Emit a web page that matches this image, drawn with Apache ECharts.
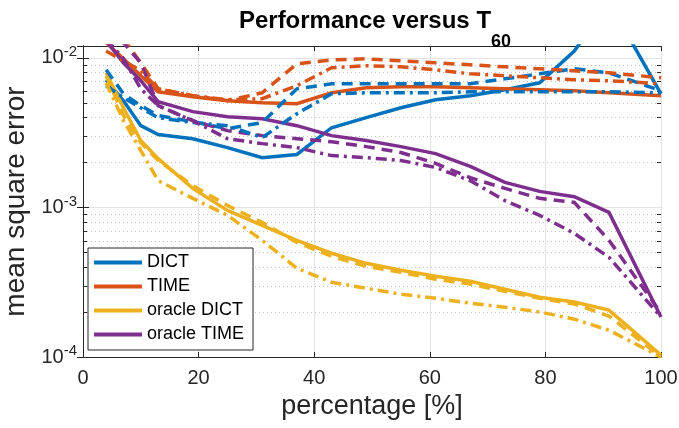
<!DOCTYPE html>
<html><head><meta charset="utf-8">
<script src="https://cdn.jsdelivr.net/npm/echarts@6/dist/echarts.min.js"></script>
<style>html,body{margin:0;padding:0;background:#fff}#c{width:679px;height:428px}</style>
</head><body><div id="c"></div>
<script>
const percentages = [4,7,10,13,19,25,31,37,43,49,55,61,67,73,79,85,91,100];
const dictSolid = [7.13e-3,5.17e-3,3.52e-3,3.07e-3,2.88e-3,2.51e-3,2.15e-3,2.26e-3,3.41e-3,3.98e-3,4.64e-3,5.25e-3,5.58e-3,6.12e-3,6.81e-3,1.11e-2,2.36e-2,5.75e-3];
const dictDashed = [8.32e-3,5.75e-3,4.79e-3,4.11e-3,3.74e-3,3.36e-3,3.69e-3,6.21e-3,6.71e-3,6.71e-3,6.71e-3,6.71e-3,6.71e-3,7.24e-3,7.82e-3,8.45e-3,7.94e-3,6.03e-3];
const dictDashDot = [6.51e-3,5.41e-3,4.64e-3,3.98e-3,3.69e-3,3.52e-3,2.93e-3,4.23e-3,5.75e-3,5.84e-3,5.84e-3,5.84e-3,5.93e-3,5.93e-3,5.93e-3,5.93e-3,5.93e-3,5.84e-3];
const timeSolid = [1.26e-2,9.85e-3,7.59e-3,5.93e-3,5.5e-3,5.17e-3,5.01e-3,4.94e-3,5.84e-3,6.31e-3,6.41e-3,6.41e-3,6.31e-3,6.21e-3,6.12e-3,6.03e-3,5.84e-3,5.58e-3];
const timeDashed = [1.51e-2,1.34e-2,9.26e-3,6.21e-3,5.58e-3,5.17e-3,5.84e-3,9.12e-3,9.7e-3,9.85e-3,9.55e-3,9.26e-3,8.98e-3,8.71e-3,8.45e-3,8.19e-3,7.94e-3,7.36e-3];
const timeDashDot = [1.11e-2,9.55e-3,8.19e-3,6.21e-3,5.58e-3,5.25e-3,5.33e-3,6.51e-3,8.58e-3,8.85e-3,8.71e-3,8.32e-3,7.82e-3,7.59e-3,7.36e-3,7.13e-3,7.03e-3,6.71e-3];
const oracleDictSolid = [7.94e-3,4.64e-3,2.8e-3,2.12e-3,1.34e-3,9.55e-4,7.59e-4,6.03e-4,4.94e-4,4.23e-4,3.8e-4,3.47e-4,3.21e-4,2.84e-4,2.51e-4,2.33e-4,2.06e-4,1.03e-4];
const oracleDictDashed = [7.59e-3,4.11e-3,2.71e-3,2.06e-3,1.4e-3,1.03e-3,7.94e-4,5.84e-4,4.71e-4,4.04e-4,3.69e-4,3.31e-4,3.07e-4,2.75e-4,2.47e-4,2.26e-4,1.88e-4,1.0e-4];
const oracleDictDashDot = [6.81e-3,3.8e-3,2.4e-3,1.51e-3,1.15e-3,8.85e-4,6.03e-4,3.92e-4,3.16e-4,2.88e-4,2.63e-4,2.47e-4,2.29e-4,2.15e-4,2.0e-4,1.79e-4,1.51e-4,1.0e-4];
const oracleTimeSolid = [1.3e-2,9.26e-3,7.03e-3,5.09e-3,4.37e-3,4.04e-3,3.92e-3,3.52e-3,3.02e-3,2.8e-3,2.55e-3,2.29e-3,1.88e-3,1.47e-3,1.28e-3,1.18e-3,9.26e-4,1.85e-4];
const oracleTimeDashed = [1.56e-2,1.26e-2,9.26e-3,4.79e-3,3.8e-3,3.26e-3,3.02e-3,2.88e-3,2.75e-3,2.55e-3,2.33e-3,1.97e-3,1.58e-3,1.34e-3,1.15e-3,1.08e-3,6.03e-4,1.97e-4];
const oracleTimeDashDot = [1.34e-2,9.85e-3,6.21e-3,4.79e-3,3.8e-3,2.88e-3,2.67e-3,2.51e-3,2.22e-3,2.15e-3,2.06e-3,1.85e-3,1.51e-3,1.11e-3,8.85e-4,6.71e-4,4.64e-4,1.85e-4];

const legendNames = ['DICT','TIME','oracle DICT','oracle TIME'];
const minorGrid = [2e-4,3e-4,4e-4,5e-4,6e-4,7e-4,8e-4,9e-4,2e-3,3e-3,4e-3,5e-3,6e-3,7e-3,8e-3,9e-3];
const titleText = 'Performance versus T';
const titleSub = '60';

const COLORS = {blue:'#0072BD', orange:'#D95319', yellow:'#EDB120', purple:'#7E2F8E'};
const DASH = [11, 7];
const DASHDOT = [11, 5, 3, 5];
const FONT = 'Liberation Sans, Arial, Helvetica, sans-serif';
const AX = '#262626';

function mk(name, vals, color, type, z) {
  return {
    name: name, type: 'line', symbol: 'none', clip: true, z: z,
    data: percentages.map((x, i) => [x, vals[i]]),
    lineStyle: {color: color, width: 3.5, type: type, cap: 'butt', join: 'miter'},
    itemStyle: {color: color},
    emphasis: {disabled: true}
  };
}

// dotted minor grid lines + minor ticks on both box edges, placed through the axis scales
const minorSeries = {
  name: '_minor', type: 'custom', z: 1, silent: true, clip: false,
  data: minorGrid.map(v => [0, v]),
  renderItem: function (params, api) {
    const v = api.value(1);
    const a = api.coord([0, v]);
    const b = api.coord([100, v]);
    const y = Math.round(a[1]) + 0.5;
    return {
      type: 'group',
      children: [
        {type: 'line', shape: {x1: a[0], y1: y, x2: b[0], y2: y},
         style: {stroke: '#c2c2c2', lineWidth: 1, lineDash: [1, 3]}, z2: 0},
        {type: 'line', shape: {x1: a[0], y1: y, x2: a[0] + 4, y2: y},
         style: {stroke: AX, lineWidth: 1}, z2: 10},
        {type: 'line', shape: {x1: b[0] - 4, y1: y, x2: b[0], y2: y},
         style: {stroke: AX, lineWidth: 1}, z2: 10}
      ]
    };
  }
};

const series = [
  minorSeries,
  mk('DICT', dictSolid, COLORS.blue, 'solid', 3),
  mk('TIME', timeSolid, COLORS.orange, 'solid', 3),
  mk('oracle DICT', oracleDictSolid, COLORS.yellow, 'solid', 3),
  mk('oracle TIME', oracleTimeSolid, COLORS.purple, 'solid', 3),
  mk('DICT --', dictDashed, COLORS.blue, DASH, 4),
  mk('TIME --', timeDashed, COLORS.orange, DASH, 4),
  mk('oracle DICT --', oracleDictDashed, COLORS.yellow, DASH, 4),
  mk('oracle TIME --', oracleTimeDashed, COLORS.purple, DASH, 4),
  mk('DICT -.', dictDashDot, COLORS.blue, DASHDOT, 5),
  mk('TIME -.', timeDashDot, COLORS.orange, DASHDOT, 5),
  mk('oracle DICT -.', oracleDictDashDot, COLORS.yellow, DASHDOT, 5),
  mk('oracle TIME -.', oracleTimeDashDot, COLORS.purple, DASHDOT, 5)
];

const yLabel = v => {
  const e = Math.log10(v);
  if (Math.abs(e - Math.round(e)) > 1e-6) return '';
  return '{b|10}{s|' + Math.round(e) + '}';
};

const chart = echarts.init(document.getElementById('c'), null, {renderer: 'canvas'});
chart.setOption({
  animation: false,
  backgroundColor: '#fff',
  textStyle: {fontFamily: FONT},
  title: {
    text: '{t|' + titleText + '}{s|' + titleSub + '}',
    left: 370, top: -13, textAlign: 'center',
    textStyle: {
      fontFamily: FONT,
      rich: {
        t: {fontSize: 24, fontWeight: 'bold', color: '#000', fontFamily: FONT},
        s: {fontSize: 18, fontWeight: 'bold', color: '#000', fontFamily: FONT, padding: [41, 0, 0, 0]}
      }
    }
  },
  legend: {
    data: legendNames, orient: 'vertical', left: 88, top: 248,
    icon: 'rect', itemWidth: 48, itemHeight: 4, itemGap: 5,
    textStyle: {fontSize: 18, color: '#000', fontFamily: FONT, lineHeight: 19},
    backgroundColor: '#fff', borderColor: AX, borderWidth: 1, borderRadius: 0,
    padding: [5, 9, 6, 6], selectedMode: false
  },
  grid: {left: 83, right: 18, top: 46, bottom: 71, containLabel: false, outerBoundsMode: 'none'},
  xAxis: [{
    type: 'value', min: 0, max: 100, interval: 20, position: 'bottom',
    name: 'percentage [%]', nameLocation: 'middle', nameGap: 33,
    nameTextStyle: {fontSize: 27, color: AX, fontFamily: FONT},
    axisLine: {show: true, lineStyle: {color: AX, width: 1}},
    axisTick: {show: true, inside: true, length: 5, lineStyle: {color: AX}},
    axisLabel: {fontSize: 20, color: AX, margin: 11, fontFamily: FONT},
    splitLine: {show: true, lineStyle: {color: '#e3e3e3', width: 1}}
  }, {
    type: 'value', min: 0, max: 100, interval: 20, position: 'top',
    axisLine: {show: true, onZero: false, lineStyle: {color: AX, width: 1}},
    axisTick: {show: true, inside: true, length: 5, lineStyle: {color: AX}},
    axisLabel: {show: false}, splitLine: {show: false}
  }],
  yAxis: [{
    type: 'log', logBase: 10, min: 1e-4, max: 0.012, position: 'left',
    name: 'mean square error', nameLocation: 'middle', nameGap: 45,
    nameTextStyle: {fontSize: 28, color: AX, fontFamily: FONT},
    axisLine: {show: true, lineStyle: {color: AX, width: 1}},
    axisTick: {show: true, inside: true, length: 6, lineStyle: {color: AX}},
    axisLabel: {
      color: AX, margin: 6, formatter: yLabel,
      rich: {
        b: {fontSize: 20, color: AX, fontFamily: FONT},
        s: {fontSize: 15, color: AX, fontFamily: FONT, padding: [0, 0, 12, 0]}
      }
    },
    splitLine: {show: true, lineStyle: {color: '#e3e3e3', width: 1}}
  }, {
    type: 'log', logBase: 10, min: 1e-4, max: 0.012, position: 'right',
    axisLine: {show: true, lineStyle: {color: AX, width: 1}},
    axisTick: {show: true, inside: true, length: 6, lineStyle: {color: AX}},
    axisLabel: {show: false}, splitLine: {show: false}
  }],
  series: series
});
</script></body></html>
